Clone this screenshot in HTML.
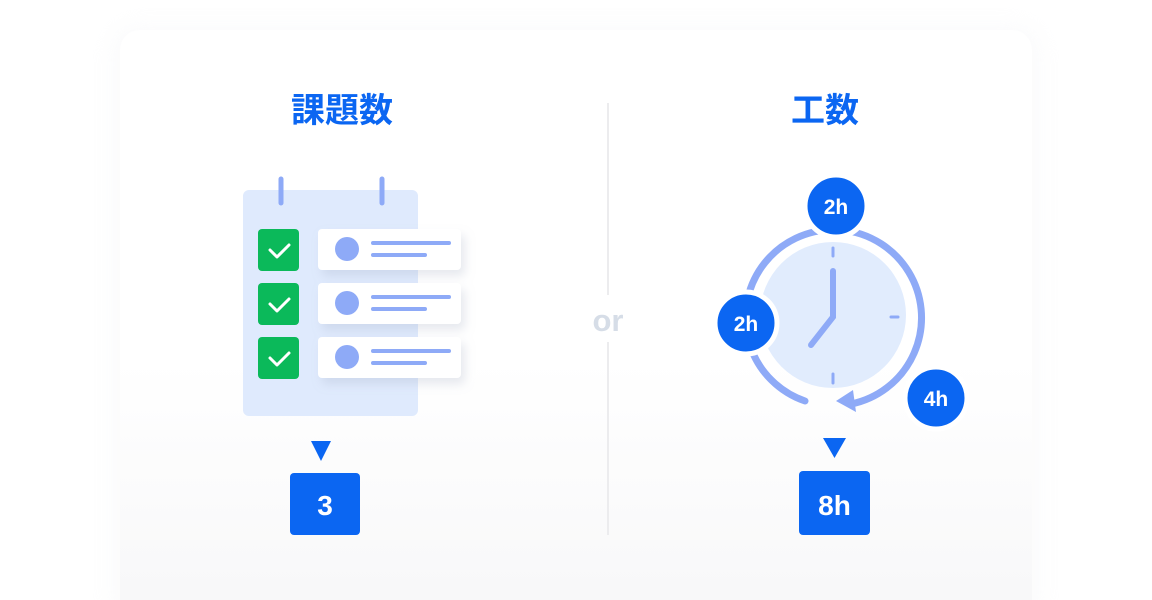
<!DOCTYPE html>
<html><head><meta charset="utf-8"><style>
html,body{margin:0;padding:0;background:#fff;}
body{width:1152px;height:600px;overflow:hidden;position:relative;font-family:"Liberation Sans","Noto Sans CJK JP",sans-serif;}
</style></head><body>
<svg width="1152" height="600" viewBox="0 0 1152 600" xmlns="http://www.w3.org/2000/svg" style="position:absolute;left:0;top:0">
<defs>
<linearGradient id="bg" x1="0" y1="0" x2="0" y2="1">
<stop offset="0" stop-color="#ffffff"/><stop offset="0.55" stop-color="#ffffff"/><stop offset="1" stop-color="#f7f7f8"/>
</linearGradient>
<filter id="sh" x="-20%" y="-20%" width="150%" height="160%"><feDropShadow dx="4" dy="6" stdDeviation="5" flood-color="#9aa6bb" flood-opacity="0.25"/></filter>
<filter id="cs" x="-10%" y="-10%" width="120%" height="120%"><feGaussianBlur stdDeviation="12"/></filter>
</defs>
<rect x="0" y="0" width="1152" height="600" fill="#fff"/>
<rect x="112" y="26" width="928" height="600" rx="24" fill="#f2f3f5" opacity="0.35" filter="url(#cs)"/>
<rect x="120" y="30" width="912" height="600" rx="20" fill="url(#bg)"/>

<text x="342" y="122" text-anchor="middle" font-size="34" font-weight="bold" fill="#0b66f2" font-family="'Noto Sans CJK JP',sans-serif">課題数</text>
<text x="825" y="122" text-anchor="middle" font-size="34" font-weight="bold" fill="#0b66f2" font-family="'Noto Sans CJK JP',sans-serif">工数</text>

<line x1="608" y1="103" x2="608" y2="295" stroke="#ececee" stroke-width="2"/>
<line x1="608" y1="342" x2="608" y2="535" stroke="#ececee" stroke-width="2"/>
<text x="608" y="331" text-anchor="middle" font-size="31" font-weight="bold" fill="#d6dde7">or</text>

<!-- calendar -->
<rect x="243" y="190" width="175" height="226" rx="6" fill="#dfeafd"/>
<line x1="281" y1="179" x2="281" y2="203" stroke="#8eaaf7" stroke-width="5" stroke-linecap="round"/>
<line x1="382" y1="179" x2="382" y2="203" stroke="#8eaaf7" stroke-width="5" stroke-linecap="round"/>
<g>
<rect x="258" y="229" width="41" height="42" rx="4" fill="#0bb95a"/>
<rect x="258" y="283" width="41" height="42" rx="4" fill="#0bb95a"/>
<rect x="258" y="337" width="41" height="42" rx="4" fill="#0bb95a"/>
<path d="M270 250 l7 7 l12 -12" fill="none" stroke="#fff" stroke-width="3" stroke-linecap="round" stroke-linejoin="round"/>
<path d="M270 304 l7 7 l12 -12" fill="none" stroke="#fff" stroke-width="3" stroke-linecap="round" stroke-linejoin="round"/>
<path d="M270 358 l7 7 l12 -12" fill="none" stroke="#fff" stroke-width="3" stroke-linecap="round" stroke-linejoin="round"/>
</g>
<g filter="url(#sh)">
<rect x="318" y="229" width="143" height="41" rx="4" fill="#fff"/>
<rect x="318" y="283" width="143" height="41" rx="4" fill="#fff"/>
<rect x="318" y="337" width="143" height="41" rx="4" fill="#fff"/>
</g>
<g fill="#8eaaf7">
<circle cx="347" cy="249" r="12"/><circle cx="347" cy="303" r="12"/><circle cx="347" cy="357" r="12"/>
<rect x="371" y="241" width="80" height="4" rx="2"/><rect x="371" y="253" width="56" height="4" rx="2"/>
<rect x="371" y="295" width="80" height="4" rx="2"/><rect x="371" y="307" width="56" height="4" rx="2"/>
<rect x="371" y="349" width="80" height="4" rx="2"/><rect x="371" y="361" width="56" height="4" rx="2"/>
</g>
<polygon points="311,441 331,441 321,461" fill="#0b66f2"/>
<rect x="290" y="473" width="70" height="62" rx="4" fill="#0b66f2"/>
<text x="325" y="515" text-anchor="middle" font-size="28" font-weight="bold" fill="#fff">3</text>

<!-- clock -->
<circle cx="833" cy="315" r="73" fill="#e1ecfd"/>
<path d="M805 401 A88 88 0 1 1 851 404" fill="none" stroke="#8eaaf7" stroke-width="7" stroke-linecap="round"/>
<polygon points="836,401 853,390 856,412" fill="#8eaaf7"/>
<g stroke="#8eaaf7" stroke-width="3" stroke-linecap="round">
<line x1="833" y1="248" x2="833" y2="256"/>
<line x1="833" y1="374" x2="833" y2="383"/>
<line x1="891" y1="317" x2="898" y2="317"/>
</g>
<g stroke="#8eaaf7" stroke-width="6" stroke-linecap="round" fill="none">
<path d="M833 271 L833 317 L811 345"/>
</g>
<g stroke="#fff" stroke-width="5" fill="#0b66f2">
<circle cx="836" cy="206" r="31"/>
<circle cx="746" cy="323" r="31"/>
<circle cx="936" cy="398" r="31"/>
</g>
<g fill="#fff" font-size="21" font-weight="bold" text-anchor="middle">
<text x="836" y="214">2h</text>
<text x="746" y="331">2h</text>
<text x="936" y="406">4h</text>
</g>
<polygon points="823,438 846,438 834.5,458" fill="#0b66f2"/>
<rect x="799" y="471" width="71" height="64" rx="4" fill="#0b66f2"/>
<text x="834.5" y="515" text-anchor="middle" font-size="28" font-weight="bold" fill="#fff">8h</text>
</svg>
</body></html>
